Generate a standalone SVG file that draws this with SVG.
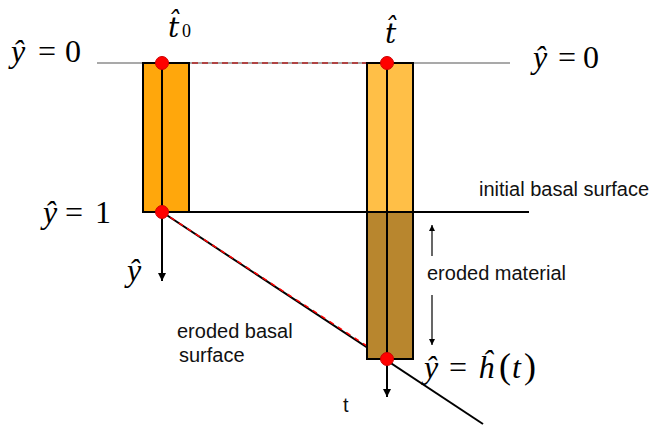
<svg xmlns="http://www.w3.org/2000/svg" width="652" height="429" viewBox="0 0 652 429">
<defs>
<marker id="ah" viewBox="0 0 10 10" refX="10" refY="5" markerWidth="8" markerHeight="8" markerUnits="userSpaceOnUse" orient="auto"><path d="M0,0 L10,5 L0,10 z" fill="#000"/></marker>
<marker id="ahs" viewBox="0 0 10 10" refX="10" refY="5" markerWidth="6" markerHeight="6" markerUnits="userSpaceOnUse" orient="auto"><path d="M0,0 L10,5 L0,10 z" fill="#000"/></marker>
</defs>
<style>
.m{font-family:"Liberation Serif","Times New Roman",serif;fill:#000;font-size:32px}
.i{font-style:italic}
.th{font-family:"DejaVu Serif","Liberation Serif",serif;font-style:italic;font-size:28px}
.s{font-family:"Liberation Sans",Arial,sans-serif;font-size:20px;fill:#111}
.ln{stroke:#000;stroke-width:2;fill:none}
.dot{fill:#f00;stroke:#c00;stroke-width:1}
</style>
<rect width="652" height="429" fill="#fff"/>
<g id="connectors">
<line x1="97" y1="63" x2="510" y2="63" stroke="#555" stroke-width="1.2"/>
<line x1="162" y1="63" x2="387" y2="63" stroke="#b22222" stroke-width="1.5" stroke-dasharray="6 4"/>
<line x1="143" y1="212" x2="529" y2="212" class="ln"/>
<line x1="162" y1="212" x2="483" y2="424" class="ln"/>
<line x1="162" y1="212" x2="387" y2="359" stroke="#f00" stroke-width="1.5" stroke-dasharray="5 5"/>
<line x1="432" y1="256" x2="432" y2="225" stroke="#000" stroke-width="1.2" marker-end="url(#ahs)"/>
<line x1="432" y1="295" x2="432" y2="345" stroke="#000" stroke-width="1.2" marker-end="url(#ahs)"/>
</g>
<g id="column-t0">
<rect x="143" y="63" width="46" height="149" fill="#ffa70c" stroke="#000" stroke-width="2"/>
<line x1="162" y1="63" x2="162" y2="281" class="ln" marker-end="url(#ah)"/>
</g>
<g id="column-t">
<rect x="367" y="63" width="46" height="149" fill="#ffbf47" stroke="#000" stroke-width="2"/>
<rect x="367" y="212" width="46" height="147" fill="#b8862e" stroke="#000" stroke-width="2"/>
<line x1="387" y1="63" x2="387" y2="397" class="ln" marker-end="url(#ah)"/>
</g>
<g id="points">
<circle cx="162" cy="63" r="6.5" class="dot"/>
<circle cx="387" cy="63" r="6.5" class="dot"/>
<circle cx="162" cy="212" r="6.5" class="dot"/>
<circle cx="387" cy="359" r="6.5" class="dot"/>
</g>
<g id="math-labels">
<text class="m" y="62"><tspan class="i" x="11">ŷ</tspan><tspan x="38">=</tspan><tspan x="65">0</tspan></text>
<text class="m" y="68"><tspan class="i" x="533">ŷ</tspan><tspan x="558">=</tspan><tspan x="583">0</tspan></text>
<text class="m" y="223"><tspan class="i" x="43">ŷ</tspan><tspan x="65">=</tspan><tspan x="95">1</tspan></text>
<text class="m i" x="127" y="281">ŷ</text>
<text class="m" y="37"><tspan class="th" x="168">t&#x302;</tspan><tspan x="182" font-size="18">0</tspan></text>
<text class="m th" x="385" y="43">t&#x302;</text>
<text class="m" y="378"><tspan class="i" x="424">ŷ</tspan><tspan x="449">=</tspan><tspan class="i" x="478">ĥ</tspan><tspan x="499" font-size="36">(</tspan><tspan class="i" x="512">t</tspan><tspan x="524" font-size="36">)</tspan></text>
</g>
<g id="text-labels">
<text class="s" x="479" y="196">initial basal surface</text>
<text class="s" x="427" y="280">eroded material</text>
<text class="s" x="177" y="338">eroded basal</text>
<text class="s" x="179" y="362">surface</text>
<text class="s" x="343" y="412">t</text>
</g>
</svg>
